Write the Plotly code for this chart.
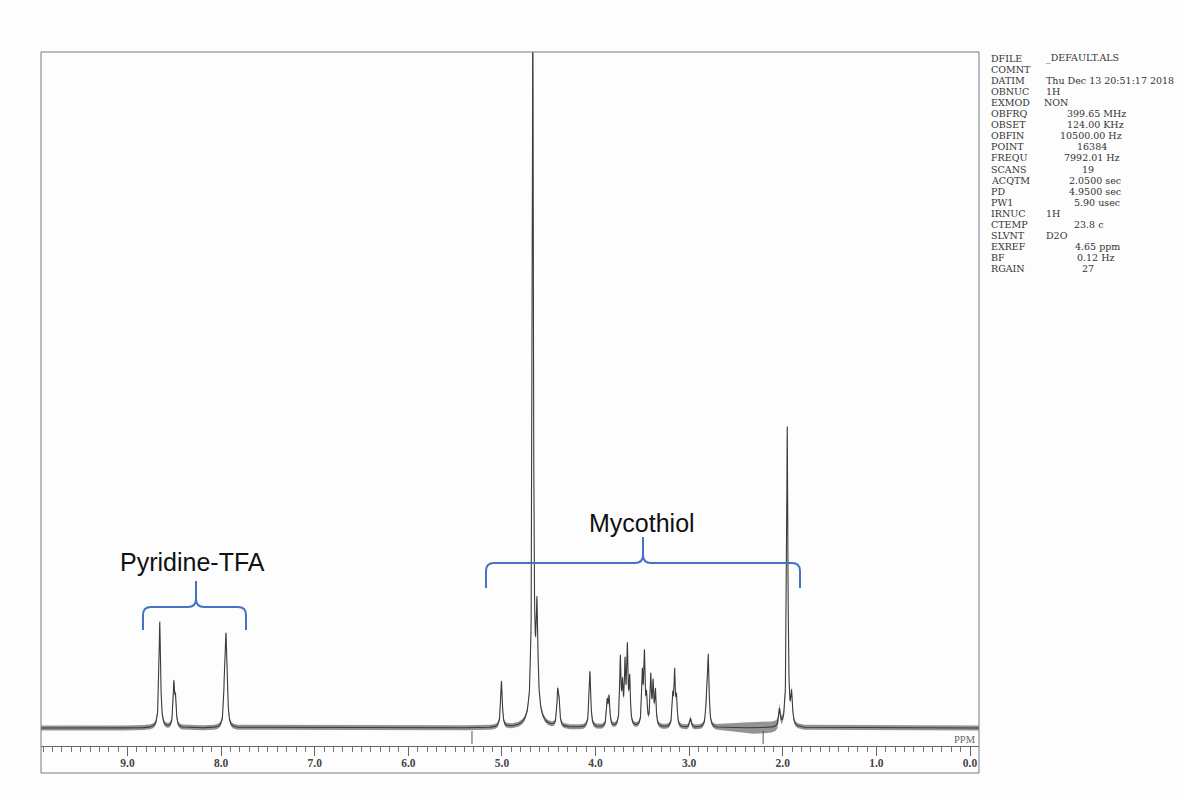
import numpy as np
import plotly.graph_objects as go

# ---------------- data ----------------
# peak list: chemical shift (ppm), height (relative units, ~px above baseline), half-width (ppm)
peak_ppm = [8.655, 8.505, 8.487, 7.962, 7.948, 7.935,
            5.005,
            4.670, 4.625, 4.645,
            4.405, 4.390, 4.060, 3.875, 3.855,
            3.735, 3.712, 3.685, 3.660, 3.635,
            3.500, 3.478, 3.455, 3.410, 3.385, 3.360,
            3.175, 3.155, 3.135, 2.985, 2.810, 2.795,
            2.035, 1.952, 1.905]
peak_height = [106, 42, 26, 48, 72, 28,
               46,
               720, 92, 26,
               32, 22, 56, 24, 28,
               66, 36, 58, 74, 44,
               50, 68, 26, 48, 40, 34,
               28, 52, 26, 9, 36, 64,
               17, 300, 30]
peak_width = [0.010, 0.009, 0.009, 0.009, 0.009, 0.009,
              0.010,
              0.007, 0.010, 0.050,
              0.009, 0.009, 0.010, 0.009, 0.009,
              0.008, 0.008, 0.008, 0.008, 0.008,
              0.008, 0.008, 0.008, 0.008, 0.008, 0.008,
              0.008, 0.008, 0.008, 0.010, 0.009, 0.009,
              0.010, 0.008, 0.010]

# baseline noise level (half-amplitude) along the shift axis
noise_ppm = [9.92, 2.75, 2.60, 2.45, 2.30, 2.10, 2.00, 1.96, -0.10]
noise_amp = [2.5, 2.5, 3.5, 5.0, 6.0, 5.5, 4.0, 2.5, 2.5]

# small marks below the baseline
mark_ppm = [5.32, 2.21]

tick_values = [0, 1, 2, 3, 4, 5, 6, 7, 8, 9]
tick_labels = ["0.0", "1.0", "2.0", "3.0", "4.0", "5.0", "6.0", "7.0", "8.0", "9.0"]

param_names = ["DFILE", "COMNT", "DATIM", "OBNUC", "EXMOD", "OBFRQ", "OBSET", "OBFIN",
               "POINT", "FREQU", "SCANS", "ACQTM", "PD", "PW1", "IRNUC", "CTEMP",
               "SLVNT", "EXREF", "BF", "RGAIN"]
param_values = ["_DEFAULT.ALS", "", "Thu Dec 13 20:51:17 2018", "1H", "NON",
                "399.65 MHz", "124.00 KHz", "10500.00 Hz", "16384", "7992.01 Hz",
                "19", "2.0500 sec", "4.9500 sec", "5.90 usec", "1H", "23.8 c",
                "D2O", "4.65 ppm", "0.12 Hz", "27"]

group_labels = ["Pyridine-TFA", "Mycothiol"]

# ---------------- layout constants ----------------
W, H = 1185, 798
L, R, T, B = 41, 979, 52, 773          # frame in px
AXIS_Y = 746                            # x-axis line
BASE_Y = 728                            # spectrum baseline
PW, PH = R - L, B - T

def px(xp):
    return (xp - L) / PW

def py(yp):
    return (B - yp) / PH

# param text column offsets (px)
param_x_name = 990
param_x_val = [1045, 1045, 1045, 1045, 1043, 1066, 1066, 1059, 1076, 1063,
               1081, 1068, 1068, 1073, 1045, 1073, 1045, 1074, 1076, 1081]
param_y0, param_dy = 58, 11.1

# ---------------- spectrum ----------------
grid = np.union1d(np.arange(-0.10, 9.93, 0.002), np.array(peak_ppm))
spec = np.zeros_like(grid)
for c, h, w in zip(peak_ppm, peak_height, peak_width):
    spec += h / (1.0 + ((grid - c) / w) ** 2)
amp = np.interp(grid, noise_ppm[::-1], noise_amp[::-1])

fig = go.Figure()
fig.add_trace(go.Scatter(x=grid, y=spec - amp, mode="lines", line=dict(width=0),
                         hoverinfo="skip", showlegend=False))
fig.add_trace(go.Scatter(x=grid, y=spec + amp, mode="lines", line=dict(width=0),
                         fill="tonexty", fillcolor="rgba(60,60,60,0.55)",
                         hoverinfo="skip", showlegend=False))
fig.add_trace(go.Scatter(x=grid, y=spec, mode="lines",
                         line=dict(color="#3c3c3c", width=1.1),
                         showlegend=False))

# vertical marks below baseline
for m in mark_ppm:
    fig.add_shape(type="line", xref="x", yref="y", x0=m, x1=m, y0=-3, y1=-16,
                  line=dict(color="#555", width=1))

# frame
fig.add_shape(type="rect", xref="paper", yref="paper", x0=0, x1=1, y0=0, y1=1,
              line=dict(color="#7a7a7a", width=1), layer="above")

# braces
BLUE = "#4472C4"
def brace(x0, x1, xc, yb, yh, yt, r=8):
    def P(a, b):
        return f"{px(a):.5f},{py(b):.5f}"
    d = (f"M {P(x0, yb)} L {P(x0, yh + r)} Q {P(x0, yh)} {P(x0 + r, yh)} "
         f"L {P(xc - r, yh)} Q {P(xc, yh)} {P(xc, yh - r)} L {P(xc, yt)} "
         f"M {P(xc, yh - r)} Q {P(xc, yh)} {P(xc + r, yh)} "
         f"L {P(x1 - r, yh)} Q {P(x1, yh)} {P(x1, yh + r)} L {P(x1, yb)}")
    fig.add_shape(type="path", xref="paper", yref="paper", path=d,
                  line=dict(color=BLUE, width=2))

brace(143, 246, 196, 630, 607, 581)
brace(486, 800, 643, 588, 563, 537)

annotations = []
annotations.append(dict(x=px(192), y=py(562), xref="paper", yref="paper",
                        text=group_labels[0], showarrow=False,
                        xanchor="center", yanchor="middle",
                        font=dict(family="Liberation Sans, Arial", size=25, color="#111")))
annotations.append(dict(x=px(642), y=py(523), xref="paper", yref="paper",
                        text=group_labels[1], showarrow=False,
                        xanchor="center", yanchor="middle",
                        font=dict(family="Liberation Sans, Arial", size=25, color="#111")))

pfont = dict(family="DejaVu Serif, serif", size=9.5, color="#333")
for i, (n, v) in enumerate(zip(param_names, param_values)):
    yy = param_y0 + i * param_dy
    annotations.append(dict(x=px(param_x_name), y=py(yy), xref="paper", yref="paper",
                            text=n, showarrow=False, xanchor="left", yanchor="middle",
                            borderpad=0, font=pfont))
    if v:
        annotations.append(dict(x=px(param_x_val[i]), y=py(yy), xref="paper", yref="paper",
                                text=v, showarrow=False, xanchor="left", yanchor="middle",
                                borderpad=0, font=pfont))

annotations.append(dict(x=px(978), y=py(739), xref="paper", yref="paper", text="PPM",
                        showarrow=False, xanchor="right", yanchor="middle",
                        font=dict(family="Liberation Serif, serif", size=10.5, color="#666")))

axis_pos = (B - AXIS_Y) / PH
ppm_left = 9.0 + (127.5 - L) / 93.6
ppm_right = 0.0 - (R - 970) / 93.6

fig.update_layout(
    width=W, height=H,
    margin=dict(l=L, r=W - R, t=T, b=H - B, pad=0),
    paper_bgcolor="#fdfdfd", plot_bgcolor="#fdfdfd",
    showlegend=False,
    annotations=annotations,
    xaxis=dict(range=[ppm_left, ppm_right], anchor="free", position=axis_pos,
               showgrid=False, zeroline=False, showline=True, linecolor="#666",
               linewidth=1, ticks="outside", ticklen=9, tickcolor="#666",
               tickvals=tick_values, ticktext=tick_labels, ticklabelstandoff=-3,
               tickfont=dict(family="Liberation Serif, serif", size=11.5,
                             color="#444", weight="bold"),
               minor=dict(dtick=0.1, ticks="outside", ticklen=5, tickcolor="#777",
                          showgrid=False)),
    yaxis=dict(domain=[axis_pos, 1], range=[BASE_Y - AXIS_Y, BASE_Y - T],
               visible=False, showgrid=False, zeroline=False),
)

fig.write_html("out.html", config={"displayModeBar": False},
               post_script="document.body.style.margin='0';")
